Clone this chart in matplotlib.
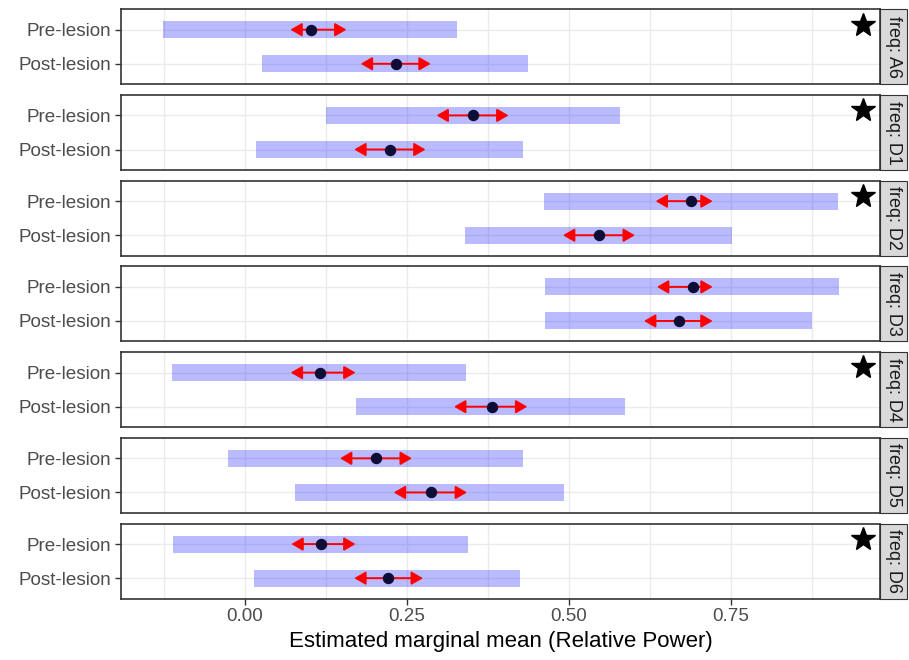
import numpy as np
import matplotlib
matplotlib.use("Agg")
import matplotlib.pyplot as plt
from matplotlib.patches import Rectangle

plt.rcParams['font.family'] = ['Liberation Sans', 'DejaVu Sans']

freqs = ['A6', 'D1', 'D2', 'D3', 'D4', 'D5', 'D6']
groups = ['Pre-lesion', 'Post-lesion']

# estimated marginal means, [pre, post] per frequency
emmean = [[0.102, 0.233], [0.352, 0.224], [0.689, 0.547], [0.692, 0.670],
          [0.116, 0.381], [0.202, 0.287], [0.118, 0.221]]
lower_cl = [[-0.126, 0.027], [0.125, 0.017], [0.461, 0.340], [0.464, 0.464],
            [-0.112, 0.171], [-0.025, 0.077], [-0.110, 0.015]]
upper_cl = [[0.328, 0.437], [0.579, 0.429], [0.916, 0.752], [0.917, 0.875],
            [0.342, 0.586], [0.429, 0.492], [0.344, 0.425]]
# comparison arrows (left / right tips)
arrow_lo = [[0.0705, 0.179], [0.296, 0.169], [0.634, 0.491], [0.636, 0.616],
            [0.071, 0.323], [0.147, 0.230], [0.072, 0.169]]
arrow_hi = [[0.157, 0.287], [0.407, 0.279], [0.722, 0.602], [0.722, 0.722],
            [0.171, 0.436], [0.258, 0.343], [0.171, 0.275]]
signif = ['A6', 'D1', 'D2', 'D4', 'D6']

xticks = [0.0, 0.25, 0.5, 0.75]
xticklabels = ['0.00', '0.25', '0.50', '0.75']
minor = [-0.125, 0.125, 0.375, 0.625, 0.875]

fig, axes = plt.subplots(len(freqs), 1, figsize=(9.09, 6.6), dpi=100, sharex=True)
fig.subplots_adjust(left=0.133, right=0.968, top=0.986, bottom=0.093, hspace=0.143)

ypos = np.arange(1, len(groups) + 1)
for i, (ax, f) in enumerate(zip(axes, freqs)):
    for x in xticks + minor:
        ax.axvline(x, color='#EBEBEB', lw=1.0, zorder=0)
    for y in ypos:
        ax.axhline(y, color='#EBEBEB', lw=1.0, zorder=0)
    lo = np.array(lower_cl[i])
    hi = np.array(upper_cl[i])
    ax.barh(ypos, hi - lo, left=lo, height=0.5, color='blue', alpha=0.27,
            lw=0, zorder=1)
    for j, y in enumerate(ypos):
        for tip in (arrow_lo[i][j], arrow_hi[i][j]):
            ax.annotate('', xy=(tip, y), xytext=(emmean[i][j], y),
                        arrowprops=dict(arrowstyle='-|>,head_length=0.38,head_width=0.22',
                                        color='red', lw=1.4, mutation_scale=18,
                                        shrinkA=0, shrinkB=0), zorder=2)
    ax.plot(emmean[i], ypos, 'o', color='#0d0d35', ms=7.2, zorder=3)
    if f in signif:
        ax.plot(0.954, 0.85, marker='*', color='black', ms=18, zorder=4)

    ax.set_xlim(-0.191, 0.980)
    ax.set_ylim(2.6, 0.4)
    ax.set_yticks(ypos)
    ax.set_yticklabels(groups)
    ax.set_xticks(xticks)
    ax.set_xticklabels(xticklabels)
    ax.tick_params(axis='both', colors='#333333', labelcolor='#4D4D4D',
                   labelsize=13.6, length=4, width=1.0, pad=3)
    if i < len(freqs) - 1:
        ax.tick_params(axis='x', bottom=False, labelbottom=False)
    for s in ax.spines.values():
        s.set_color('#333333')
        s.set_linewidth(1.2)

    ax.add_patch(Rectangle((1.0, 0.0), 0.0356, 1.0, transform=ax.transAxes,
                           facecolor='#D9D9D9', edgecolor='#333333', lw=0.8,
                           clip_on=False))
    ax.text(1.0178, 0.5, 'freq: ' + f, transform=ax.transAxes, rotation=-90,
            ha='center', va='center', fontsize=13, color='#1A1A1A')

axes[-1].set_xlabel('Estimated marginal mean (Relative Power)', fontsize=16,
                    color='black', labelpad=4)

fig.savefig('out.png', dpi=100)
